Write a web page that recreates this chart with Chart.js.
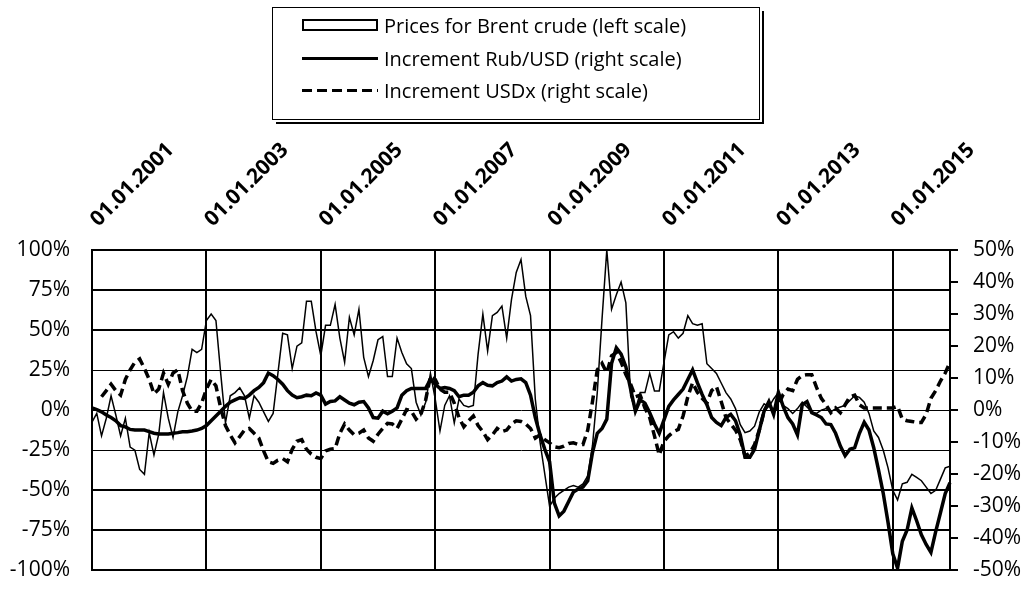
<!DOCTYPE html>
<html>
<head>
<meta charset="utf-8">
<script src="https://cdn.jsdelivr.net/npm/chart.js@4.4.1/dist/chart.umd.min.js"></script>
<style>
    html, body { margin: 0; padding: 0; background: #fff; }
    #wrap { position: relative; width: 1033px; height: 605px; }
    #legend {
        position: absolute; left: 272px; top: 7px; width: 488px; height: 113px;
        box-sizing: border-box; border: 1.5px solid #000; background: #fff;
        box-shadow: 2px 2px 0 #fff, 4px 4px 0 #000;
        font-family: 'Open Sans', sans-serif; font-size: 20px; color: #000; z-index: 2;
    }
    .item { position: absolute; left: 29px; height: 28px; display: flex; align-items: center; white-space: nowrap; }
    .mk { width: 76px; margin-right: 6px; box-sizing: border-box; flex: none; }
    .mk.box { height: 12px; border: 2px solid #000; }
    .mk.solid { height: 3px; background: #000; }
    .mk.dash { height: 3px; background: repeating-linear-gradient(90deg, #000 0 10px, transparent 10px 15px); }
</style>
</head>
<body>
<div id="wrap">
    <div id="legend">
        <div class="item" style="top:3px"><div class="mk box"></div>Prices for Brent crude (left scale)</div>
        <div class="item" style="top:36px"><div class="mk solid"></div>Increment Rub/USD (right scale)</div>
        <div class="item" style="top:68px"><div class="mk dash"></div>Increment USDx (right scale)</div>
    </div>
    <canvas id="chart"></canvas>
</div>
<script>
/* ─── Data (monthly, Jan 2001 .. Jan 2016) ───────────────────── */

const startYear = 2001;
const tickLabels = ['01.01.2001', '01.01.2003', '01.01.2005', '01.01.2007',
                    '01.01.2009', '01.01.2011', '01.01.2013', '01.01.2015'];

// Brent price, y/y change, % (left scale)
const brent = [
    -7.5, -2, -16, -5, 9, -3, -16, -5, -23, -25,
    -37, -40, -14, -28, -15, 11, -5, -17, -1, 9,
    21, 38, 36, 38, 56, 60, 56, 23, -8, 9,
    11, 14, 9, -5, 9, 5, -1, -7, -2, 23,
    48, 47, 26, 40, 42, 68, 68, 49, 34, 53,
    53, 66, 45, 30, 58, 47, 63, 33, 21, 31,
    44, 46, 21, 21, 45, 36, 29, 26, 5, -3,
    5, 23, 7, -13, 3, 9, -8, 7, 3, 2,
    3, 35, 60, 37, 59, 61, 65, 45, 69, 86,
    94, 71, 59, 7, -20, -40, -60, -55, -52, -50,
    -48, -47, -48, -46, -41, -22, 11, 57, 100, 63,
    72, 80, 67, 9, 0, 11, 11, 23, 12, 12,
    30, 47, 49, 45, 48, 59, 54, 53, 54, 29,
    26, 23, 17, 11, 7, 1, -9, -14, -13, -10,
    -1, 4, 2, 7, 11, 3, 1, -2, 1, 5,
    2, -1, -2, 0, 1, -1, 1, 2, 3, 6,
    9, 8, 5, -2, -13, -17, -25, -36, -50, -56,
    -46, -45, -40, -42, -44, -48, -52, -50, -43, -36,
    -35
];

// Rub/USD increment, % (right scale)
const rubUsd = [
    0.7, 0.2, -0.5, -1.5, -2.3, -3.3, -4.8, -5.2, -6, -6.2,
    -6.2, -6.2, -6.7, -7.2, -7.4, -7.4, -7.4, -7.2, -7, -6.7,
    -6.7, -6.5, -6.2, -5.7, -4.8, -3.3, -1.8, -0.3, 1.2, 2.5,
    3.2, 3.9, 3.7, 4.7, 6.1, 7.1, 8.6, 11.6, 10.8, 9.6,
    8.1, 6.1, 4.7, 3.9, 4.2, 4.7, 4.5, 5.4, 4.7, 1.9,
    2.7, 2.9, 4.2, 3.2, 2.2, 1.7, 2.5, 2.7, 0.7, -2.3,
    -2.5, -0.3, -1.1, -0.3, 0.7, 4.7, 6.1, 6.8, 6.8, 6.8,
    6.8, 9.6, 8.1, 6.8, 7.1, 6.8, 6.1, 4.2, 4.7, 4.7,
    5.6, 7.6, 8.6, 7.8, 7.6, 8.6, 9.1, 10.4, 9.1, 9.6,
    9.8, 8.6, 4.7, -2.3, -7.7, -12.2, -16.1, -29, -33, -31.5,
    -28.5, -25.5, -24.6, -24, -22, -13.2, -7.2, -5.7, -2.8, 14.6,
    19.5, 17.5, 13.6, 6.6, -0.3, 3.2, 2.2, -0.8, -4.3, -7.2,
    -3, 1.2, 3.2, 4.9, 6.6, 9.6, 12.6, 8.6, 4.9, 1.7,
    -2.3, -3.8, -4.8, -2.3, -1.3, -3.3, -7.7, -14.7, -14.7, -12.2,
    -6.2, -0.3, 2.7, -1.3, 5.6, 1.2, -2.3, -4.3, -7.7, 1.7,
    2.7, -0.8, -1.5, -2.3, -4.3, -4.5, -7.2, -11.2, -14.2, -12.2,
    -11.7, -7.2, -3.8, -6.2, -11.7, -18.6, -26, -35, -44.8, -49.3,
    -40.9, -37.4, -30.5, -34.5, -38.9, -41.9, -44.4, -37.9, -32, -26,
    -22.6
];

// USD index increment, % (right scale)
const usdx = [
    null, null, 4.2, 6.1, 8.1, 6.1, 4.7, 9.6, 12.6, 15,
    16, 13, 9.6, 5.1, 6.6, 11.6, 8.1, 11.6, 12.6, 6.1,
    2.2, -0.3, -0.3, 2.2, 6.6, 9.6, 7.6, 0.7, -4.8, -7.7,
    -10.2, -8.2, -6.2, -5.7, -7.2, -8.7, -12.7, -16.1, -16.6, -15.6,
    -15.1, -16.1, -12.2, -9.7, -9.2, -12.2, -13.7, -14.7, -15.1, -12.7,
    -12.2, -12, -7.2, -4.3, -6.2, -7.7, -7.2, -6.2, -8.7, -9.7,
    -7.5, -5.7, -4.1, -4.3, -5.7, -2.8, 0.2, -0.3, -2.8, -1.3,
    3.2, 10.6, 9.6, 6.6, 5.6, 5.6, 2.2, -2.3, -5.2, -3.3,
    -1.8, -4.8, -6.7, -9.2, -7.7, -5.7, -6.7, -6.2, -4.3, -3.3,
    -3.5, -4.3, -5.7, -8.7, -7.7, -9.2, -10.2, -11.4, -11.7, -11.2,
    -10.4, -10.2, -10.7, -10.7, -6.2, 2.7, 12.6, 14.6, 11.6, 17,
    18, 15, 11.1, 8.1, 4.2, 4.7, 0.7, -2.3, -8, -14,
    -9.7, -8, -6.7, -6, -1.8, 4.2, 8.6, 5.6, 3.7, 2.2,
    6.1, 7.4, 2.7, -2.3, -4.3, -6.2, -9.2, -14.2, -13.4, -10.7,
    -6.2, -0.3, 2.2, -0.3, 1.7, 4.9, 6.6, 6.1, 9.6, 10.8,
    11.1, 11.1, 7.1, 3.7, 1.7, -0.8, 0.7, -0.8, 1.7, 4.2,
    4.7, 1.7, 0.7, 0.7, 0.7, 0.7, 0.7, 0.7, 0.7, 1.2,
    -2.8, -3.3, -3.5, -3.8, -3.8, -1.3, 3.7, 6.1, 9.1, 11.6,
    15
];

// category labels: one per month
const months = brent.map((_, i) => {
    const m = (i % 12) + 1;
    return '01.' + (m < 10 ? '0' + m : m) + '.' + (startYear + Math.floor(i / 12));
});

/* ─── Chart ──────────────────────────────────────────────────── */

const FONT = "'Open Sans', sans-serif";

new Chart(document.getElementById('chart'), {
    type: 'line',
    data: {
        labels: months,
        datasets: [
            {
                label: 'Prices for Brent crude (left scale)',
                data: brent, yAxisID: 'y', order: 2,
                borderColor: '#000', borderWidth: 1.5,
                pointRadius: 0, tension: 0,
            },
            {
                label: 'Increment Rub/USD (right scale)',
                data: rubUsd, yAxisID: 'y1', order: 0,
                borderColor: '#000', borderWidth: 3.5,
                pointRadius: 0, tension: 0,
            },
            {
                label: 'Increment USDx (right scale)',
                data: usdx, yAxisID: 'y1', order: 1,
                borderColor: '#000', borderWidth: 3.5, borderDash: [9, 5],
                pointRadius: 0, tension: 0,
            },
        ]
    },
    options: {
        responsive: true,
        maintainAspectRatio: false,
        animation: false,
        layout: { padding: { top: 130, bottom: 18, left: 0, right: 0 } },
        plugins: {
            legend: { display: false },
            tooltip: { enabled: false },
        },
        scales: {
            x: {
                position: 'top',
                offset: false,
                border: { display: false },
                grid: {
                    drawTicks: false,
                    lineWidth: 2,
                    color: c => c.index % 24 === 0 ? '#000' : 'rgba(0,0,0,0)',
                },
                ticks: {
                    autoSkip: false,
                    minRotation: 45, maxRotation: 45,
                    padding: 18,
                    labelOffset: 20,
                    color: '#000',
                    font: { family: FONT, size: 21, weight: '700' },
                    callback: (v, i) => i % 24 === 0 ? tickLabels[i / 24] : '',
                },
                afterFit: s => { s.height = 120; },
            },
            y: {
                position: 'left',
                min: -100, max: 100,
                border: { display: true, color: '#000', width: 2 },
                grid: {
                    drawTicks: false,
                    color: '#000',
                    lineWidth: c => Math.abs(c.tick.value) >= 50 ? 2 : 1,
                },
                ticks: {
                    stepSize: 25, padding: 22, color: '#000',
                    font: { family: FONT, size: 21 },
                    callback: v => v + '%',
                },
                afterFit: s => { s.width = 92; },
            },
            y1: {
                position: 'right',
                min: -50, max: 50,
                border: { display: true, color: '#000', width: 2 },
                grid: { drawOnChartArea: false, color: '#000', lineWidth: 2, tickLength: 8 },
                ticks: {
                    stepSize: 10, padding: 15, color: '#000',
                    font: { family: FONT, size: 21 },
                    callback: v => v + '%',
                },
                afterFit: s => { s.width = 83; },
            },
        }
    }
});
</script>
</body>
</html>
